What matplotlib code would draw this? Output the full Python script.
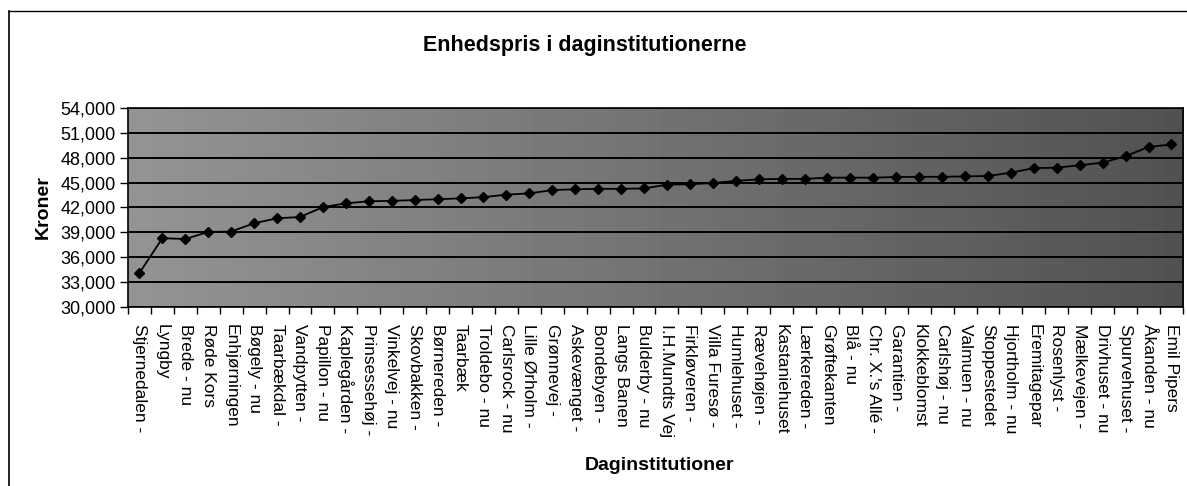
import numpy as np
import matplotlib
matplotlib.use("Agg")
import matplotlib.pyplot as plt
from matplotlib.ticker import FuncFormatter, FixedLocator
from matplotlib.lines import Line2D

plt.rcParams['font.family'] = ['Liberation Sans', 'DejaVu Sans']

institutioner = [
    "Stjernedalen -", "Lyngby", "Brede - nu", "Røde Kors", "Enhjørningen",
    "Bøgely - nu", "Taarbækdal -", "Vandpytten -", "Papillon - nu", "Kaplegården -",
    "Prinsessehøj -", "Vinkelvej - nu", "Skovbakken -", "Børnereden -", "Taarbæk",
    "Troldebo - nu", "Carlsrock - nu", "Lille Ørholm -", "Grønnevej -", "Askevænget -",
    "Bondebyen -", "Langs Banen", "Bulderby - nu", "I.H.Mundts Vej", "Firkløveren -",
    "Villa Furesø -", "Humlehuset -", "Rævehøjen -", "Kastaniehuset", "Lærkereden -",
    "Grøftekanten", "Blå - nu", "Chr. X.'s Allé -", "Garantien -", "Klokkeblomst",
    "Carlshøj - nu", "Valmuen - nu", "Stoppestedet", "Hjortholm - nu", "Eremitagepar",
    "Rosenlyst -", "Mælkevejen -", "Drivhuset - nu", "Spurvehuset -", "Åkanden - nu",
    "Emil Pipers",
]

kroner = [
    34100, 38300, 38200, 39050, 39100, 40100, 40700, 40850, 42050, 42500,
    42750, 42800, 42900, 43000, 43100, 43250, 43550, 43700, 44100, 44200,
    44250, 44250, 44300, 44750, 44800, 44950, 45200, 45400, 45450, 45450,
    45600, 45600, 45600, 45680, 45700, 45700, 45750, 45800, 46200, 46750,
    46800, 47100, 47400, 48200, 49300, 49600,
]

y_ticks = list(range(30000, 54001, 3000))

fig = plt.figure(figsize=(11.87, 4.86), dpi=100)
ax = fig.add_axes([0.1078, 0.3683, 0.8888, 0.4095])

x = np.arange(len(institutioner))

# grey plot area, darker towards the right like the scan
grad = np.linspace(0.58, 0.32, 256).reshape(1, -1)
ax.imshow(grad, cmap='gray', vmin=0, vmax=1, aspect='auto',
          extent=[0, 1, 0, 1], transform=ax.transAxes, zorder=0)

ax.plot(x, kroner, color='black', linewidth=1.3, marker='D', markersize=5, zorder=3)

ax.set_xlim(-0.5, len(institutioner) - 0.5)
ax.set_ylim(30000, 54000)
ax.set_yticks(y_ticks)
ax.yaxis.set_major_formatter(FuncFormatter(lambda v, p: f"{int(v):,}"))
ax.grid(axis='y', color='black', linewidth=1.4, zorder=1)
ax.set_axisbelow(True)

ax.set_xticks(x)
ax.set_xticklabels(institutioner, rotation=-90, fontsize=12.5, va='top', ha='center')
ax.xaxis.set_minor_locator(FixedLocator(np.arange(-0.5, len(institutioner), 1)))
ax.tick_params(axis='x', which='major', length=0, pad=12)
ax.tick_params(axis='x', which='minor', length=5, width=1, color='black', direction='out')
ax.tick_params(axis='y', length=6, width=1, labelsize=13, pad=3)

for s in ax.spines.values():
    s.set_color('black')
    s.set_linewidth(1.2)

fig.text(0.493, 0.907, "Enhedspris i daginstitutionerne", fontsize=15.5, fontweight='bold',
         ha='center', va='center')
ax.set_ylabel("Kroner", fontsize=14, fontweight='bold', labelpad=6)
fig.text(0.556, 0.043, "Daginstitutioner", fontsize=14, fontweight='bold', ha='center', va='center')

# chart area border (left and top edges visible in the scan)
fig.add_artist(Line2D([0.008, 0.008], [0.0, 0.978], transform=fig.transFigure, color='black', linewidth=1.2))
fig.add_artist(Line2D([0.008, 1.0], [0.978, 0.978], transform=fig.transFigure, color='black', linewidth=1.0))

fig.savefig("out.png", dpi=100)
